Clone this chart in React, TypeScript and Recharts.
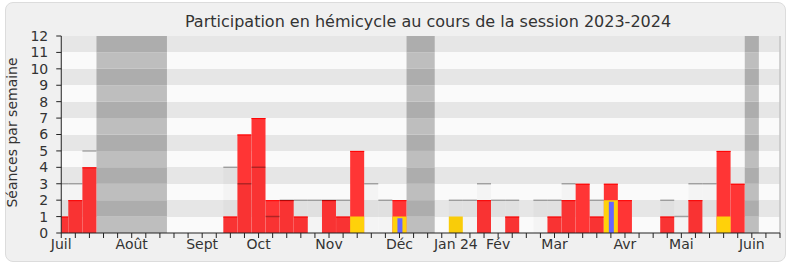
import { Bar, CartesianGrid, ComposedChart, ReferenceArea, ReferenceLine, XAxis, YAxis } from "recharts";

// semaines de la session (0 = première semaine de juillet 2023)
const WEEKS = Array.from({ length: 52 }, (_, i) => i);
const MONTH_WEEKS = [0, 5, 10, 14, 19, 24, 28, 31, 35, 40, 44, 49];
const MONTH_NAMES = ["Juil", "Août", "Sept", "Oct", "Nov", "Déc", "Jan 24", "Fév", "Mar", "Avr", "Mai", "Juin"];
const Y_TICKS = [0, 1, 2, 3, 4, 5, 6, 7, 8, 9, 10, 11, 12];

const SEANCES = [
  1, 2, 4, 0, 0, 0, 0, 0, 0, 0,
  0, 0, 1, 6, 7, 2, 2, 1, 0, 2,
  1, 5, 0, 0, 2, 0, 0, 0, 0, 0,
  2, 0, 1, 0, 0, 1, 2, 3, 1, 3,
  2, 0, 0, 1, 0, 2, 0, 5, 3, 0,
  0, 0,
];
const QUESTIONS = [
  0, 0, 0, 0, 0, 0, 0, 0, 0, 0,
  0, 0, 0, 0, 0, 0, 0, 0, 0, 0,
  0, 1, 0, 0, 1, 0, 0, 0, 1, 0,
  0, 0, 0, 0, 0, 0, 0, 0, 0, 2,
  0, 0, 0, 0, 0, 0, 0, 1, 0, 0,
  0, 0,
];
const QUESTIONS_ORALES = [
  0, 0, 0, 0, 0, 0, 0, 0, 0, 0,
  0, 0, 0, 0, 0, 0, 0, 0, 0, 0,
  0, 0, 0, 0, 0.9, 0, 0, 0, 0, 0,
  0, 0, 0, 0, 0, 0, 0, 0, 0, 1.9,
  0, 0, 0, 0, 0, 0, 0, 0, 0, 0,
  0, 0,
];
const MEDIANE = [
  3, 3, 5, 0, 0, 0, 0, 0, 0, 0,
  0, 0, 4, 3, 4, 1, 2, 2, 2, 2,
  2, 0, 3, 2, 0, 0, 0, 0, 2, 2,
  3, 2, 2, 0, 2, 2, 3, 0, 2, 0,
  0, 0, 0, 2, 1, 3, 3, 0, 0, 0,
  0, 0,
];
// vacances parlementaires : [première semaine, dernière semaine]
const VACANCES = [
  [3, 7],
  [25, 26],
  [49, 49],
];

const data = WEEKS.map((w, i) => ({
  week: w,
  seances: SEANCES[i],
  questions: QUESTIONS[i],
  orales: QUESTIONS_ORALES[i],
  mediane: MEDIANE[i],
}));

const FONT = "DejaVu Sans";
const DOMAIN: [number, number] = [0, 51];

const RedBar = (p: any) => {
  if (!p.height) return null;
  return (
    <g>
      <rect x={p.x} y={p.y} width={p.width} height={p.height} fill="#ff3535" />
      <line x1={p.x} x2={p.x + p.width} y1={p.y + 0.5} y2={p.y + 0.5} stroke="#ff0000" />
    </g>
  );
};

const MedianBar = (p: any) => {
  if (!p.height) return null;
  return (
    <g>
      <rect x={p.x} y={p.y} width={p.width} height={p.height} fill="rgba(0,0,0,0.025)" />
      <line x1={p.x} x2={p.x + p.width} y1={p.y} y2={p.y} stroke="rgba(0,0,0,0.3)" strokeWidth={1.5} />
    </g>
  );
};

const YLabel = () => (
  <text
    transform="translate(17,132.5) rotate(-90)"
    textAnchor="middle"
    fontFamily={FONT}
    fontSize={14}
    fill="#333"
  >
    Séances par semaine
  </text>
);

const monthLabel = (v: number) => {
  const k = MONTH_WEEKS.indexOf(v);
  return k >= 0 ? MONTH_NAMES[k] : "";
};

export default function App() {
  return (
    <div style={{ position: "absolute", left: 0, top: 0, width: 790, height: 267, background: "#fff" }}>
      <div
        style={{
          position: "absolute",
          left: 5,
          top: 2,
          width: 779,
          height: 258,
          border: "1px solid #dcdcdc",
          borderRadius: 8,
          background: "#f0f0f0",
        }}
      />
      <div
        style={{
          position: "absolute",
          left: 428,
          top: 12,
          transform: "translateX(-50%)",
          whiteSpace: "nowrap",
          fontFamily: FONT,
          fontSize: 16,
          color: "#333",
        }}
      >
        Participation en hémicycle au cours de la session 2023-2024
      </div>
      <div style={{ position: "absolute", left: 0, top: 0 }}>
        <ComposedChart
          width={790}
          height={267}
          data={data}
          barCategoryGap={0}
          barGap={0}
          margin={{ top: 36, right: 10, bottom: 0, left: 11.25 }}
        >
          <CartesianGrid
            xAxisId="main"
            vertical={false}
            stroke="none"
            horizontalFill={["#e6e6e6", "#fafafa"]}
            fillOpacity={1}
          />
          {VACANCES.flatMap(([s, e]) =>
            Y_TICKS.slice(0, 12).map((k) => (
              <ReferenceArea
                key={"v" + s + "-" + k}
                xAxisId="main"
                x1={s - 0.5}
                x2={e + 0.5}
                y1={k}
                y2={k + 1}
                fill={k % 2 === 1 ? "#adadad" : "#bebebe"}
                fillOpacity={1}
              />
            ))
          )}
          <ReferenceLine xAxisId="main" x={51} stroke="#c4c4c4" strokeWidth={1.5} />
          <Bar xAxisId="main" dataKey="seances" shape={RedBar} isAnimationActive={false} />
          <Bar xAxisId="q" dataKey="questions" fill="#ffd10a" isAnimationActive={false} />
          <Bar xAxisId="o" dataKey="orales" fill="#6666ff" barSize={5} isAnimationActive={false} />
          <Bar xAxisId="m" dataKey="mediane" shape={MedianBar} isAnimationActive={false} />
          <XAxis
            xAxisId="main"
            dataKey="week"
            type="number"
            domain={DOMAIN}
            allowDataOverflow
            ticks={WEEKS}
            interval={0}
            tickFormatter={monthLabel}
            height={34}
            tickSize={5}
            tickMargin={1}
            axisLine={{ stroke: "#222" }}
            tickLine={{ stroke: "#222" }}
            tick={{ fill: "#333", fontSize: 14, fontFamily: FONT }}
          />
          <XAxis
            xAxisId="top"
            orientation="top"
            dataKey="week"
            type="number"
            domain={DOMAIN}
            allowDataOverflow
            ticks={WEEKS}
            interval={0}
            height={0}
            tickSize={2}
            axisLine={false}
            tick={false}
            tickLine={{ stroke: "#333" }}
          />
          <XAxis xAxisId="q" orientation="top" dataKey="week" type="number" domain={DOMAIN} allowDataOverflow height={0} hide />
          <XAxis xAxisId="o" orientation="top" dataKey="week" type="number" domain={DOMAIN} allowDataOverflow height={0} hide />
          <XAxis xAxisId="m" orientation="top" dataKey="week" type="number" domain={DOMAIN} allowDataOverflow height={0} hide />
          <YAxis
            type="number"
            domain={[0, 12]}
            ticks={Y_TICKS}
            interval={0}
            allowDataOverflow
            width={50}
            tickSize={5}
            tickMargin={8}
            axisLine={{ stroke: "#222" }}
            tickLine={{ stroke: "#222" }}
            tick={{ fill: "#333", fontSize: 14, fontFamily: FONT }}
            label={{ content: YLabel }}
          />
        </ComposedChart>
      </div>
    </div>
  );
}
